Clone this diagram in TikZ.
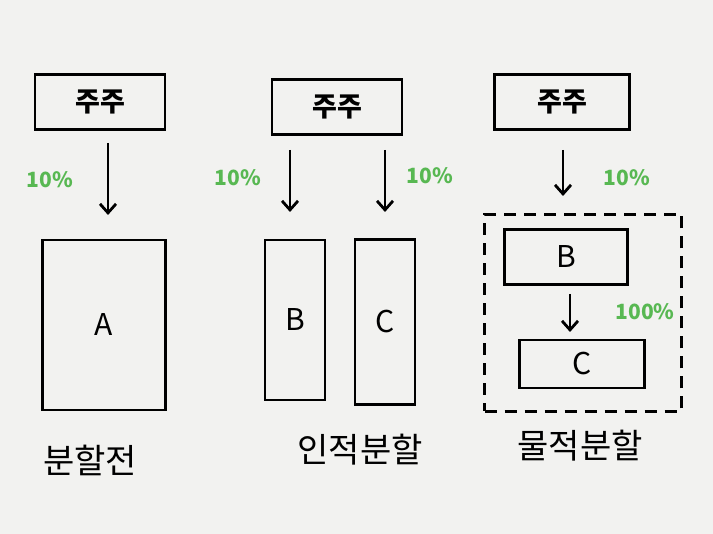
\documentclass[tikz,border=0pt]{standalone}
\usepackage{fontspec}
\newfontfamily\kr{Noto Sans CJK KR}
\usetikzlibrary{arrows.meta,positioning}
\definecolor{paper}{RGB}{242,242,240}
\definecolor{pct}{RGB}{88,184,82}

\begin{document}
\begin{tikzpicture}[x=1pt,y=-1pt,>={Straight Barb[length=9pt,width=16pt]},line width=2.8pt,
  sh/.style={draw,minimum width=130pt,minimum height=55pt,font=\fontsize{27}{30}\selectfont\kr\bfseries},
  co/.style={draw,font=\fontsize{30}{34}\selectfont\kr},
  pc/.style={text=pct,font=\fontsize{21}{24}\selectfont\kr\bfseries},
  lb/.style={font=\fontsize{34}{38}\selectfont\kr}]
\fill[paper] (0,0) rectangle (713,534);
\useasboundingbox (0,0) rectangle (713,534);
% shareholders
\node[sh] (s1) at (100,102) {주주};
\node[sh] (s2) at (337,107) {주주};
\node[sh,minimum width=135pt] (s3) at (562,102) {주주};
% before split
\node[co,minimum width=123pt,minimum height=170pt] (a) at (104,325) {A};
\draw[->] (s1.south -| 108,0) ++(0,12) coordinate (t1) -- (108,215) coordinate (h1);
\node[pc] (p1) at (50,180) {10\%};
% personal split
\node[co,minimum width=60pt,minimum height=160pt] (b1) at (295,320) {B};
\node[co,minimum width=60pt,minimum height=165pt] (c1) at (385,322) {C};
\coordinate (t2) at (290,150); \coordinate (h2) at (290,212);
\coordinate (t3) at (385,150); \coordinate (h3) at (385,212);
\draw[->] (t2) -- (h2);
\draw[->] (t3) -- (h3);
\node[pc] (p2) at (238,178) {10\%};
\node[pc] (p3) at (430,176) {10\%};
% physical split
\node[draw,dashed,dash pattern=on 12pt off 8pt,minimum width=197pt,minimum height=197pt] (g) at (583,313) {};
\node[co,minimum width=123pt,minimum height=55pt] (b2) at (566,257) {B};
\node[co,minimum width=125pt,minimum height=48pt] (c2) at (582,364) {C};
\coordinate (t4) at (563,150); \coordinate (h4) at (563,196);
\draw[->] (t4) -- (h4);
\node[pc] (p4) at (627,178) {10\%};
\draw[->] (b2.south -| 570,0) ++(0,8) coordinate (t5) -- (570,332) coordinate (h5);
\node[pc] (p5) at (645,312) {100\%};
% labels
\node[lb] (l1) at (90,460) {분할전};
\node[lb] (l2) at (360,450) {인적분할};
\node[lb] (l3) at (580,446) {물적분할};
\end{tikzpicture}
\end{document}
